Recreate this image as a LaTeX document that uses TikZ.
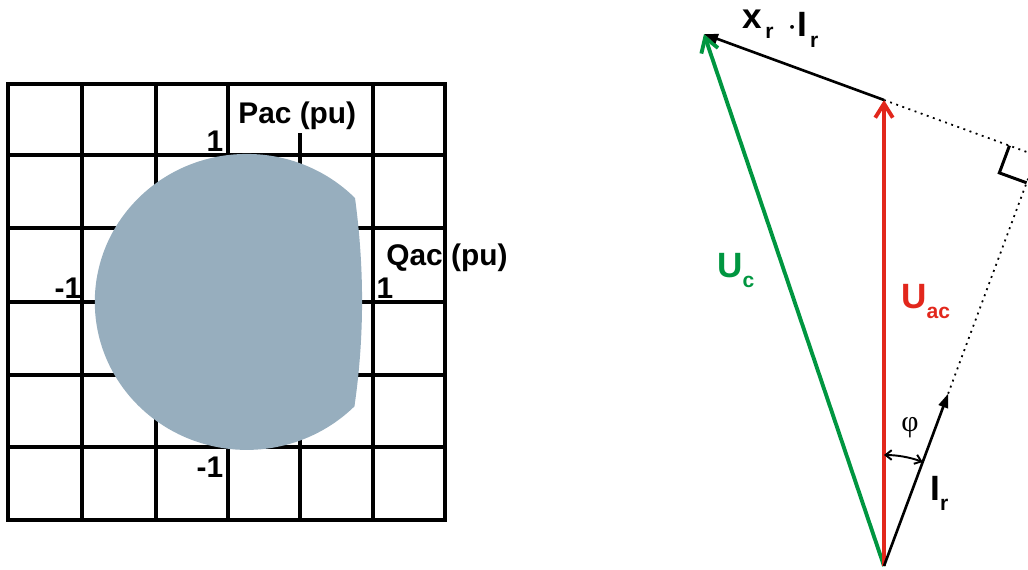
\documentclass[tikz,border=0pt]{standalone}
\usepackage{fontspec}
\setmainfont{Liberation Sans}
\newfontfamily\greekfont{Liberation Serif}
\usepackage{tikz}
\usetikzlibrary{arrows.meta,calc}
\definecolor{pqblue}{RGB}{151,174,190}
\definecolor{ucgreen}{RGB}{0,150,64}
\definecolor{uacred}{RGB}{226,39,28}
\newcommand{\vsub}[1]{\raisebox{-6pt}{\fontsize{12}{12}\selectfont #1}}

\begin{document}
\begin{tikzpicture}[x=0.02cm,y=0.02cm,
      gridline/.style={line width=1.9pt},
      axlabel/.style={font=\fontsize{17}{20}\selectfont\bfseries,inner sep=0pt},
      vlabel/.style={font=\fontsize{20}{24}\selectfont\bfseries,inner sep=0pt},
      uac/.style={draw=uacred,line width=2.2pt,-{Straight Barb[length=8pt,width=10pt]}},
      uc/.style={draw=ucgreen,line width=2.2pt,-{Straight Barb[length=8pt,width=10pt]}},
      phasor/.style={line width=1.5pt,-{Triangle[length=8pt,width=5.5pt]}},
      aux/.style={line width=1pt,dash pattern=on 1.1pt off 2.6pt},
      phiarc/.style={line width=1.1pt,{Straight Barb[length=3.5pt,width=5.5pt]}-{Straight Barb[length=3.5pt,width=5.5pt]}}
    ]
      \useasboundingbox (0,0) rectangle (1028,-569);
      \clip (0,0) rectangle (1028,-569);

      % PQ capability chart
      \draw[gridline] (8,-84) rectangle (445,-520);
      \foreach \x in {82,156,228,373} \draw[gridline] (\x,-84) -- (\x,-520);
      \draw[gridline] (300,-133) -- (300,-520);
      \foreach \y in {155,228,302,375,447} \draw[gridline] (8,-\y) -- (445,-\y);

      \fill[pqblue] (355,-198) arc[start angle=44.6,end angle=315.1,x radius=152,y radius=148]
        .. controls (364.5,-337) and (364.5,-268) .. cycle;

      \node[axlabel,anchor=base west] (pac) at (238,-123) {Pac (pu)};
      \node[axlabel,anchor=base west] (qac) at (386,-265) {Qac (pu)};
      \node[axlabel,anchor=base] (pone) at (215,-151) {1};
      \node[axlabel,anchor=base] (pmone) at (210,-477) {-1};
      \node[axlabel,anchor=base] (qone) at (385,-298) {1};
      \node[axlabel,anchor=base] (qmone) at (68,-298) {-1};

      % phasor diagram
      \coordinate (O) at (884,-566);
      \coordinate (Uac) at (884,-100);
      \coordinate (Uc) at (704,-34);
      \coordinate (F) at (1036.7,-155.6);
      \coordinate (Ir) at ($(O)!0.42!(F)$);
      \coordinate (ra1) at ($(F)!0.58cm!(Uac)$);
      \coordinate (ra2) at ($(F)!0.58cm!(O)$);
      \coordinate (ra) at ($(ra1)+(ra2)-(F)$);

      \draw[aux] (Uac) -- (F);
      \draw[aux] (Ir) -- (F);
      \draw[line width=1.7pt] (ra1) -- (ra) -- (ra2);

      \draw[uc] (O) -- (Uc);
      \draw[uac] (O) -- (Uac);
      \draw[phasor] (Uac) -- (Uc);
      \draw[phasor] (O) -- (Ir);
      \draw[phiarc] ($(O)+(90:111)$) arc[start angle=90,end angle=69.6,radius=111];

      \node[vlabel,text=ucgreen,anchor=base west] (lUc) at (717,-277) {U\vsub{c}};
      \node[vlabel,text=uacred,anchor=base west] (lUac) at (901,-308) {U\vsub{ac}};
      \node[vlabel,anchor=base west] (lIr) at (930,-500) {I\vsub{r}};
      \node[vlabel,anchor=base west] (lXr) at (742,-28) {x\hspace{2pt}\vsub{r}\hspace{8pt}\raisebox{-5pt}{{\mdseries$\cdot$}I\hspace{1.5pt}\vsub{r}}};
      \node[font=\fontsize{17}{19}\selectfont\greekfont] (lphi) at (910,-428) {φ};
    \end{tikzpicture}
\end{document}
